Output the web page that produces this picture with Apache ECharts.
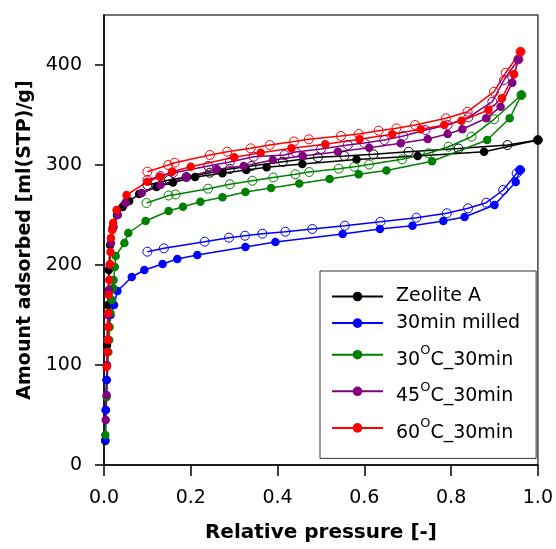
<!DOCTYPE html>
<html>
<head>
<meta charset="utf-8">
<script src="https://cdn.jsdelivr.net/npm/echarts@6/dist/echarts.min.js"></script>
<style>
html,body{margin:0;padding:0;background:#fff;}
#chart{width:556px;height:549px;}
</style>
</head>
<body>
<div id="chart"></div>
<script>
// Series names (legend)
const seriesNames = ['Zeolite A', '30min milled', '30OC_30min', '45OC_30min', '60OC_30min'];
const seriesColors = ['#000000', '#0000ff', '#008000', '#800080', '#ff0000'];

// Axis ticks
const xTicks = [0, 0.2, 0.4, 0.6, 0.8, 1.0];
const yTicks = [0, 100, 200, 300, 400];

// Zeolite A: adsorption (filled) and desorption (open)
const zeoliteAds = [[0.003,24],[0.004,55],[0.006,85],[0.007,120],[0.009,160],[0.011,195],[0.014,220],[0.02,237],[0.03,250],[0.043,258],[0.058,264],[0.081,271],[0.121,278],[0.159,282.5],[0.21,288],[0.273,291.7],[0.328,295],[0.375,297.7],[0.457,301],[0.582,305.5],[0.723,309],[0.876,313.3],[1.0,325]];
const zeoliteDes = [[1.0,325],[0.93,320],[0.817,316.5],[0.702,313.3],[0.621,310.7],[0.554,309],[0.493,307.7],[0.412,303.3],[0.34,299],[0.29,296],[0.244,292.3],[0.19,288],[0.15,285],[0.1,280]];

// 30min milled
const milledAds = [[0.003,25],[0.004,55],[0.006,85],[0.008,113],[0.011,138],[0.015,150],[0.023,160],[0.031,174],[0.064,188],[0.093,195],[0.135,201],[0.169,206],[0.215,210],[0.326,218],[0.395,223],[0.55,231],[0.636,236],[0.711,239.3],[0.782,244],[0.831,248],[0.9,260],[0.949,283],[0.959,295]];
const milledDes = [[0.959,295],[0.951,291.7],[0.92,275],[0.881,262.3],[0.839,256.7],[0.79,251.7],[0.72,247.3],[0.637,243.2],[0.555,239.3],[0.48,236],[0.418,233.3],[0.365,231.3],[0.325,229.3],[0.288,227.3],[0.232,223.3],[0.138,216.7],[0.1,213.3]];

// 30 C 30min
const c30Ads = [[0.003,30],[0.006,68],[0.01,113],[0.012,125],[0.013,138],[0.015,152],[0.018,165],[0.021,177],[0.022,185],[0.025,198],[0.027,209],[0.047,222],[0.056,232],[0.096,244],[0.149,254],[0.182,258.3],[0.222,263.3],[0.273,267.7],[0.326,273],[0.385,277],[0.45,281.5],[0.52,286],[0.587,290.7],[0.651,294.5],[0.756,303.7],[0.883,325],[0.935,346.7],[0.962,370]];
const c30Des = [[0.962,370],[0.899,345.7],[0.847,328.3],[0.794,318.3],[0.748,311.7],[0.687,305.7],[0.611,300.5],[0.577,298.3],[0.541,296.3],[0.473,293],[0.441,290.7],[0.39,287.5],[0.342,284.3],[0.29,280.7],[0.24,276.3],[0.165,270.5],[0.149,269.5],[0.098,262]];

// 45 C 30min
const c45Ads = [[0.004,45],[0.006,70],[0.007,100],[0.008,125],[0.009,150],[0.011,175],[0.013,200],[0.016,222],[0.022,238],[0.032,250],[0.05,262],[0.087,272],[0.13,280],[0.19,288],[0.26,295.7],[0.322,299],[0.389,305],[0.458,309],[0.539,313.3],[0.611,317.3],[0.684,321.7],[0.746,326],[0.792,331],[0.826,335.7],[0.881,346.7],[0.914,358.3],[0.941,382.3],[0.955,405.7]];
const c45Des = [[0.955,405.7],[0.922,385],[0.895,363.3],[0.84,347.7],[0.792,340],[0.741,335],[0.69,329],[0.646,325],[0.6,322],[0.562,320],[0.5,316],[0.441,313],[0.416,310],[0.345,308.3],[0.29,303],[0.24,299],[0.159,292],[0.13,289],[0.1,285]];

// 60 C 30min
const c60Ads = [[0.006,98],[0.008,113],[0.009,125],[0.01,138],[0.01,152],[0.011,170],[0.012,185],[0.014,201],[0.015,213],[0.016,227],[0.019,235],[0.021,242],[0.029,255],[0.052,270],[0.1,283.3],[0.129,288.3],[0.157,293.3],[0.2,298.3],[0.3,307.7],[0.361,312.3],[0.432,316.7],[0.51,320.7],[0.589,325.7],[0.664,330.7],[0.73,335.7],[0.784,340],[0.824,344.3],[0.886,355],[0.917,366.7],[0.945,390.7],[0.96,413.3]];
const c60Des = [[0.96,413.3],[0.926,392.3],[0.899,373.3],[0.838,353.3],[0.788,346.7],[0.717,340],[0.674,336.7],[0.633,334.3],[0.587,331],[0.546,329],[0.472,325.7],[0.438,323.5],[0.382,320],[0.338,316.7],[0.284,313.3],[0.244,310],[0.163,302.3],[0.148,300],[0.1,293.3]];

const adsData = [zeoliteAds, milledAds, c30Ads, c45Ads, c60Ads];
const desData = [zeoliteDes, milledDes, c30Des, c45Des, c60Des];

const FONT = 'DejaVu Sans';
const series = [];
seriesNames.forEach((name, i) => {
  const c = seriesColors[i];
  series.push({
    name, type: 'line', data: adsData[i],
    symbol: 'circle', symbolSize: 8.5,
    lineStyle: {color: c, width: 1.5},
    itemStyle: {color: c},
    silent: true
  });
  series.push({
    name, type: 'line', data: desData[i],
    symbol: 'circle', symbolSize: 9,
    lineStyle: {color: c, width: 1.5},
    itemStyle: {color: 'rgba(255,255,255,0)', borderColor: c, borderWidth: 1},
    silent: true
  });
});

const chart = echarts.init(document.getElementById('chart'));
chart.setOption({
  animation: false,
  backgroundColor: '#fff',
  textStyle: {fontFamily: FONT},
  grid: {left: 104, right: 16, top: 15, bottom: 84, show: true, borderColor: '#444', borderWidth: 1.5, backgroundColor: 'transparent'},
  xAxis: {
    type: 'value', min: 0, max: 1, interval: 0.2,
    name: 'Relative pressure [-]', nameLocation: 'middle', nameGap: 58,
    nameTextStyle: {fontFamily: FONT, fontSize: 20, fontWeight: 'bold', color: '#000'},
    axisLine: {show: true, lineStyle: {color: '#000', width: 1.5}},
    axisTick: {show: true, length: 11, lineStyle: {color: '#000', width: 1.5}, customValues: xTicks},
    axisLabel: {fontFamily: FONT, fontSize: 19, color: '#000', margin: 24, customValues: xTicks, formatter: v => v.toFixed(1)},
    splitLine: {show: false}
  },
  yAxis: {
    type: 'value', min: 0, max: 450, interval: 100,
    name: 'Amount adsorbed [ml(STP)/g]', nameLocation: 'middle', nameGap: 68,
    nameTextStyle: {fontFamily: FONT, fontSize: 19, fontWeight: 'bold', color: '#000'},
    axisLine: {show: true, lineStyle: {color: '#000', width: 1.5}},
    axisTick: {show: true, length: 9, lineStyle: {color: '#000', width: 1.5}, customValues: yTicks},
    axisLabel: {fontFamily: FONT, fontSize: 19, color: '#000', margin: 22, customValues: yTicks},
    splitLine: {show: false}
  },
  legend: {
    orient: 'vertical', left: 320, top: 271,
    padding: [16, 16, 16, 11],
    itemWidth: 51, itemHeight: 12, itemGap: 7.6,
    backgroundColor: '#fff', borderColor: '#333', borderWidth: 1, borderRadius: 0,
    data: seriesNames,
    formatter: function (name) {
      const m = name.match(/^(\d+)OC(_.*)$/);
      if (m) return '{g|' + m[1] + '}{s|O}{n|C' + m[2] + '}';
      return '{f|' + name + '}';
    },
    textStyle: {
      color: '#000', fontFamily: FONT, fontSize: 19,
      rich: {
        f: {fontFamily: FONT, fontSize: 19, color: '#000', lineHeight: 20, padding: [0, 0, 0, 8]},
        g: {fontFamily: FONT, fontSize: 19, color: '#000', lineHeight: 20, padding: [10, 0, 0, 8]},
        n: {fontFamily: FONT, fontSize: 19, color: '#000', lineHeight: 20, padding: [10, 0, 0, 0]},
        s: {fontFamily: FONT, fontSize: 13, color: '#000', lineHeight: 13, padding: [0, 0, 8, 0]}
      }
    }
  },
  series
});
</script>
</body>
</html>
